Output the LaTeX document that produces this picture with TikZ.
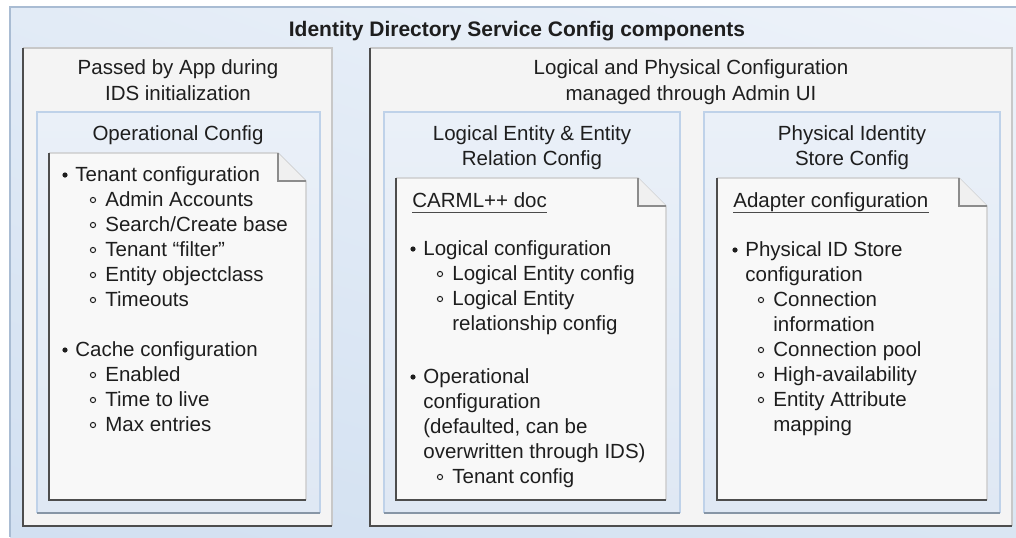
\documentclass[tikz,border=0pt]{standalone}
\usepackage{fontspec}
\setmainfont{Liberation Sans}
\usetikzlibrary{shadings}
\definecolor{outerA}{HTML}{E2EBF6}
\definecolor{outerB}{HTML}{EEF3FA}
\definecolor{outerC}{HTML}{D2E0F1}
\definecolor{outerD}{HTML}{DAE6F3}
\definecolor{outeredge}{HTML}{A9BCD3}
\definecolor{panelfill}{HTML}{F4F4F4}
\definecolor{edgelight}{HTML}{C8C8C8}
\definecolor{edgedark}{HTML}{4D4D4D}
\definecolor{grpA}{HTML}{EAF0F8}
\definecolor{grpB}{HTML}{DFE8F4}
\definecolor{grpedge}{HTML}{BFD2E9}
\definecolor{grpshadow}{HTML}{8796A6}
\definecolor{notefill}{HTML}{F8F8F8}
\definecolor{foldfill}{HTML}{F0F0F0}
\definecolor{foldedge}{HTML}{8C8C8C}
\definecolor{textc}{HTML}{1E1E1E}
\tikzset{
	txt/.style={inner sep=0pt, text=textc, font=\fontsize{10.25pt}{12pt}\selectfont},
	ttl/.style={txt, anchor=base},
	heading/.style={ttl, font=\fontsize{10.5pt}{12pt}\selectfont\bfseries},
	item/.style={txt, anchor=base west},
	lightline/.style={draw=edgelight, line width=0.7pt},
	darkline/.style={draw=edgedark, line width=0.8pt},
	uline/.style={draw=textc!80, line width=0.5pt}
}
\begin{document}
\begin{tikzpicture}[x=0.5pt,y=-0.5pt]
	\useasboundingbox (0,0) rectangle (1016,537);
	% Outer frame
	\shade[upper left=outerA, upper right=outerB, lower left=outerC, lower right=outerD] (10,7) rectangle (1016,537);
	\draw[outeredge, line width=0.7pt] (1016,7) -- (10,7) -- (10,537);
	% Panels
	\foreach \xa/\xb in {23/332, 370/1012}{
		\fill[panelfill] (\xa,48) rectangle (\xb,526);
		\draw[lightline] (\xa,48) -- (\xb,48) -- (\xb,526);
		\draw[darkline] (\xa,48) -- (\xa,526) -- (\xb,526);
	}
	% Blue groups
	\foreach \xa/\xb in {37/320, 384/680, 704/1000}{
		\shade[top color=grpA, bottom color=grpB] (\xa,112) rectangle (\xb,513);
		\draw[grpedge, line width=0.8pt] (\xa,513) -- (\xa,112) -- (\xb,112) -- (\xb,513);
		\draw[grpshadow, line width=0.8pt] (\xa,513) -- (\xb,513);
	}
	% Note sheets with folded corner
	\foreach \xa/\xb/\ya in {49/306/153, 396/666/178, 717/987/178}{
		\fill[notefill] (\xa,\ya) -- (\xb-28,\ya) -- (\xb,\ya+28) -- (\xb,500) -- (\xa,500) -- cycle;
		\draw[lightline] (\xa,\ya) -- (\xb-28,\ya) -- (\xb,\ya+28) -- (\xb,500);
		\draw[darkline] (\xa,\ya) -- (\xa,500) -- (\xb,500);
		\filldraw[fill=foldfill, draw=foldedge, line width=0.7pt] (\xb-28,\ya) -- (\xb-28,\ya+28) -- (\xb,\ya+28);
	}
	% Titles
	\node[heading] (title) at (517,36) {Identity Directory Service Config components};
	\node[ttl] (passby1) at (178,74) {Passed by App during};
	\node[ttl] (passby2) at (178,100) {IDS initialization};
	\node[ttl] (opcfg) at (178,140) {Operational Config};
	\node[ttl] (logphys1) at (691,74) {Logical and Physical Configuration};
	\node[ttl] (logphys2) at (691,100) {managed through Admin UI};
	\node[ttl] (lerc1) at (532,140) {Logical Entity \& Entity};
	\node[ttl] (lerc2) at (532,165) {Relation Config};
	\node[ttl] (pisc1) at (852,140) {Physical Identity};
	\node[ttl] (pisc2) at (852,165) {Store Config};
	\node[item] (carml) at (412,207) {CARML++ doc};
	\node[item] (adapter) at (733,207) {Adapter configuration};
	\draw[uline] ([yshift=-2.5pt]carml.base west) -- ([yshift=-2.5pt]carml.base east);
	\draw[uline] ([yshift=-2.5pt]adapter.base west) -- ([yshift=-2.5pt]adapter.base east);
	% Lists: 1 = bullet, 2 = circle, 0 = continued line
	\foreach \x/\y/\k/\t [count=\i] in {
		75/181/1/Tenant configuration, 105/206/2/Admin Accounts,
		105/231/2/{Search/Create base}, 105/256/2/Tenant “filter”,
		105/281/2/Entity objectclass, 105/306/2/Timeouts,
		75/356/1/Cache configuration, 105/381/2/Enabled,
		105/406/2/Time to live, 105/431/2/Max entries,
		423/255/1/Logical configuration, 452/280/2/Logical Entity config,
		452/305/2/Logical Entity, 452/330/0/relationship config,
		423/383/1/Operational, 423/408/0/configuration,
		423/433/0/{(defaulted, can be}, 423/458/0/{overwritten through IDS)},
		452/483/2/Tenant config,
		745/256/1/Physical ID Store, 745/281/0/configuration,
		773/306/2/Connection, 773/331/0/information,
		773/356/2/Connection pool, 773/381/2/High-availability,
		773/406/2/Entity Attribute, 773/431/0/mapping}{
		\node[item] (item\i) at (\x,\y) {\t};
		\ifnum\k=1 \fill[textc] (\x-10,\y-6) circle[radius=1.3pt]; \fi
		\ifnum\k=2 \draw[textc, line width=0.5pt] (\x-12,\y-6) circle[radius=1.3pt]; \fi
	}
\end{tikzpicture}
\end{document}
